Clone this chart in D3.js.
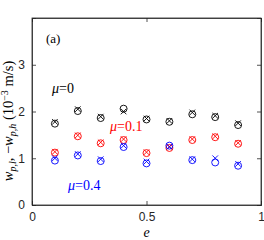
<!DOCTYPE html>
<html>
<head>
<meta charset="utf-8">
<script src="https://cdn.jsdelivr.net/npm/d3@7"></script>
<style>
  body { margin: 0; background: #fff; }
  svg { display: block; }
</style>
</head>
<body>
<svg width="264" height="240"></svg>
<script>
const eValues = [0.1, 0.2, 0.3, 0.4, 0.5, 0.6, 0.7, 0.8, 0.9]
// circles: w_p,l ; crosses: -w_p,h
const mu0Circle = [1.74, 2.01, 1.86, 2.06, 1.83, 1.78, 1.94, 1.88, 1.71]
const mu0Cross = [1.78, 2.05, 1.89, 2.00, 1.85, 1.80, 1.98, 1.91, 1.75]
const mu01Circle = [1.12, 1.47, 1.32, 1.39, 1.11, 1.22, 1.39, 1.45, 1.31]
const mu01Cross = [1.14, 1.49, 1.34, 1.41, 1.13, 1.24, 1.41, 1.47, 1.33]
const mu04Circle = [0.95, 1.06, 0.94, 1.24, 0.89, 1.27, 0.96, 0.91, 0.84]
const mu04Cross = [1.00, 1.09, 0.98, 1.27, 0.93, 1.25, 0.98, 1.00, 0.88]
const xTicks = [0, 0.5, 1]
const yTicks = [0, 1, 2, 3]

const svg = d3.select("svg")
const xScale = d3.scaleLinear().domain([0, 1]).range([32, 261])
const yScale = d3.scaleLinear().domain([0, 4]).range([205, 18])

const axisColor = "#262626"

// ticks (inward) on all four sides
const xAxis = d3.axisBottom(xScale).tickValues(xTicks).tickSize(-4).tickPadding(7).tickFormat(d => d)
const yAxis = d3.axisLeft(yScale).tickValues(yTicks).tickSize(-4).tickPadding(7).tickFormat(d => d)
const xTop = d3.axisTop(xScale).tickValues(xTicks).tickSize(-4).tickFormat("")
const yRight = d3.axisRight(yScale).tickValues(yTicks).tickSize(-4).tickFormat("")

svg.append("g").attr("transform", "translate(0,205)").call(xAxis).attr("id", "xAxisG")
svg.append("g").attr("transform", "translate(32,0)").call(yAxis).attr("id", "yAxisG")
svg.append("g").attr("transform", "translate(0,18)").call(xTop)
svg.append("g").attr("transform", "translate(261,0)").call(yRight)

svg.selectAll("path.domain").attr("stroke", axisColor).attr("stroke-width", 0.8)
svg.selectAll("g.tick line").attr("stroke", axisColor).attr("stroke-width", 0.8)
svg.selectAll("g.tick text")
    .attr("fill", axisColor)
    .style("font-family", "Liberation Sans, Arial, sans-serif")
    .style("font-size", "12px")

// frame
svg.append("rect")
    .attr("x", xScale(0)).attr("y", yScale(4))
    .attr("width", xScale(1) - xScale(0)).attr("height", yScale(0) - yScale(4))
    .attr("fill", "none").attr("stroke", axisColor).attr("stroke-width", 0.8)

const series = [
    { circ: mu0Circle, cross: mu0Cross, color: "#000000" },
    { circ: mu01Circle, cross: mu01Cross, color: "#ff0000" },
    { circ: mu04Circle, cross: mu04Cross, color: "#0000ff" }
]

const r = 3.5
series.forEach(s => {
    const g = svg.append("g")
    g.selectAll("circle")
        .data(s.circ)
        .enter()
        .append("circle")
        .attr("cx", (d, i) => xScale(eValues[i]))
        .attr("cy", d => yScale(d))
        .attr("r", r)
        .attr("fill", "none")
        .attr("stroke", s.color)
        .attr("stroke-width", 0.9)
    g.selectAll("path")
        .data(s.cross)
        .enter()
        .append("path")
        .attr("d", (d, i) => {
            const x = xScale(eValues[i]), y = yScale(d), a = 2.8
            return `M${x - a},${y - a}L${x + a},${y + a}M${x - a},${y + a}L${x + a},${y - a}`
        })
        .attr("stroke", s.color)
        .attr("stroke-width", 0.9)
})

const serif = "Liberation Serif, Times New Roman, serif"

function muLabel(x, y, value, color) {
    const t = svg.append("text")
        .attr("x", x).attr("y", y)
        .attr("fill", color)
        .style("font-family", serif)
        .style("font-size", "14px")
    t.append("tspan").style("font-style", "italic").text("μ")
    t.append("tspan").text("=" + value)
}
muLabel(52, 93, "0", "#000")
muLabel(110, 131, "0.1", "#ff0000")
muLabel(68, 190, "0.4", "#0000ff")

svg.append("text")
    .attr("x", 46).attr("y", 43)
    .style("font-family", serif)
    .style("font-size", "13px")
    .text("(a)")

// x label
svg.append("text")
    .attr("x", xScale(0.5)).attr("y", 237)
    .attr("text-anchor", "middle")
    .style("font-family", serif)
    .style("font-size", "14px")
    .style("font-style", "italic")
    .text("e")

// y label
const yl = svg.append("text")
    .attr("transform", "translate(13,121) rotate(-90)")
    .attr("text-anchor", "middle")
    .style("font-family", serif)
    .style("font-size", "14.5px")
yl.append("tspan").style("font-style", "italic").text("w")
yl.append("tspan").attr("dy", 3).style("font-size", "10px").style("font-style", "italic").text("p,l")
yl.append("tspan").attr("dy", -3).text(", −")
yl.append("tspan").style("font-style", "italic").text("w")
yl.append("tspan").attr("dy", 3).style("font-size", "10px").style("font-style", "italic").text("p,h")
yl.append("tspan").attr("dy", -3).text(" (10")
yl.append("tspan").attr("dy", -5).style("font-size", "10px").text("−3")
yl.append("tspan").attr("dy", 5).text(" m/s)")
</script>
</body>
</html>
